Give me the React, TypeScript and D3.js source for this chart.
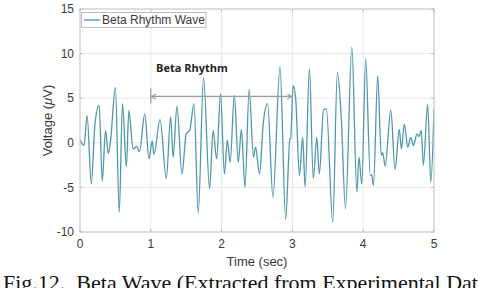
import React from 'react';
import * as d3 from 'd3';

// peaks and troughs of the beta wave
const times = [
  0.0, 0.057, 0.1, 0.16, 0.21, 0.27, 0.315, 0.36, 0.4, 0.43,
  0.5, 0.555, 0.6, 0.655, 0.69, 0.75, 0.8, 0.84, 0.915, 0.975,
  1.02, 1.045, 1.13, 1.22, 1.28, 1.315, 1.37, 1.44, 1.5, 1.55,
  1.61, 1.67, 1.745, 1.83, 1.88, 1.93, 1.985, 2.04, 2.08, 2.12,
  2.18, 2.235, 2.28, 2.33, 2.39, 2.45, 2.48, 2.535, 2.59, 2.65,
  2.725, 2.825, 2.905, 2.965, 2.975, 3.01, 3.045, 3.1, 3.145, 3.18,
  3.24, 3.295, 3.345, 3.38, 3.44, 3.48, 3.57, 3.635, 3.69, 3.75,
  3.84, 3.91, 3.94, 3.98, 4.035, 4.1, 4.12, 4.145, 4.205, 4.255,
  4.275, 4.31, 4.39, 4.45, 4.51, 4.54, 4.58, 4.63, 4.67, 4.71,
  4.76, 4.79, 4.82, 4.85, 4.91, 4.955, 5.0,
];
const voltages = [
  0.3, -0.3, 3.05, -4.6, 2.0, 4.2, -4.3, 1.4, -1.2, 0.1,
  6.2, -7.8, 4.4, -2.7, 3.6, -0.7, -0.4, -1.0, 3.25, -1.8,
  0.2, -1.3, 2.6, -4.0, 2.9, -1.6, 4.1, -3.5, 1.0, 1.4,
  4.4, -7.9, 7.3, -5.15, 1.4, -1.8, 5.5, -3.5, 0.3, -2.2,
  5.3, -2.2, 1.5, -5.0, 6.0, -1.6, -0.5, -3.5, 2.3, 4.4,
  -6.1, 8.5, -8.6, 0.45, 0.5, 6.4, 5.1, -3.65, 0.6, -4.95,
  8.3, -4.0, 0.6, -3.5, 3.7, 3.8, -8.9, 7.9, 2.9, -7.4,
  10.7, -5.5, -1.6, -4.6, 9.4, -3.65, -3.6, -4.8, 7.5, -1.4,
  -1.1, -2.6, 3.7, -3.0, 1.5, -0.7, 2.1, -0.5, 0.6, -0.3,
  1.0, 0.7, 1.4, -2.5, 4.3, -4.4, 3.8,
];
const xTicks = [0, 1, 2, 3, 4, 5];
const yTicks = [-10, -5, 0, 5, 10, 15];
const seriesName = 'Beta Rhythm Wave';
const bandLabel = 'Beta Rhythm';
const bandRange = [1, 3];
const bandLevel = 5.2;
const caption = 'Fig.12.  Beta Wave (Extracted from Experimental Data)';

const W = 478;
const H = 288;
const waveColor = '#4f97ad';
const frameColor = '#bdbdbd';
const gridColor = '#e9e9e9';
const labelColor = '#3a3a3a';
const sans = '"Liberation Sans", Arial, sans-serif';

export default function App() {
  const x = d3.scaleLinear().domain([0, 5]).range([80, 434]);
  const y = d3.scaleLinear().domain([-10, 15]).range([232, 9]);
  const [x0, x1] = x.range();
  const [y0, y1] = y.range();

  const points = times.map((t, i) => [t, voltages[i]] as [number, number]);
  const line = d3.line<[number, number]>()
    .x(d => x(d[0]))
    .y(d => y(d[1]))
    .curve(d3.curveMonotoneX);

  const ax = x(bandRange[0]);
  const bx = x(bandRange[1]);
  const ay = y(bandLevel);

  return (
    <div style={{ position: 'absolute', left: 0, top: 0 }}>
      <svg width={W} height={H} style={{ display: 'block', background: '#fff' }}>
        <defs>
          <clipPath id="plot">
            <rect x={x0} y={y1} width={x1 - x0} height={y0 - y1} />
          </clipPath>
        </defs>

        {/* grid */}
        {xTicks.slice(1, -1).map(t => (
          <line key={'gx' + t} x1={x(t)} x2={x(t)} y1={y1} y2={y0} stroke={gridColor} />
        ))}
        {yTicks.slice(1, -1).map(t => (
          <line key={'gy' + t} x1={x0} x2={x1} y1={y(t)} y2={y(t)} stroke={gridColor} />
        ))}

        {/* wave */}
        <path d={line(points) ?? ''} fill="none" stroke={waveColor} strokeWidth={1.3}
          clipPath="url(#plot)" strokeLinejoin="round" />

        {/* frame and inward ticks */}
        <rect x={x0} y={y1} width={x1 - x0} height={y0 - y1} fill="none" stroke={frameColor} />
        {xTicks.map(t => (
          <g key={'tx' + t} stroke={frameColor}>
            <line x1={x(t)} x2={x(t)} y1={y0} y2={y0 - 3} />
            <line x1={x(t)} x2={x(t)} y1={y1} y2={y1 + 3} />
          </g>
        ))}
        {yTicks.map(t => (
          <g key={'ty' + t} stroke={frameColor}>
            <line x1={x0} x2={x0 + 3} y1={y(t)} y2={y(t)} />
            <line x1={x1} x2={x1 - 3} y1={y(t)} y2={y(t)} />
          </g>
        ))}

        {/* tick labels */}
        {xTicks.map(t => (
          <text key={'lx' + t} x={x(t)} y={y0 + 16} textAnchor="middle"
            fontFamily={sans} fontSize={12} fill={labelColor}>{t}</text>
        ))}
        {yTicks.map(t => (
          <text key={'ly' + t} x={x0 - 6} y={y(t)} dy="0.35em" textAnchor="end"
            fontFamily={sans} fontSize={12} fill={labelColor}>{t}</text>
        ))}

        {/* axis titles */}
        <text x={(x0 + x1) / 2} y={266} textAnchor="middle" fontFamily={sans}
          fontSize={13} fill={labelColor}>Time (sec)</text>
        <text transform={`translate(52,${(y0 + y1) / 2}) rotate(-90)`} textAnchor="middle"
          fontFamily={sans} fontSize={13} fill={labelColor}>
          Voltage (<tspan fontStyle="italic">μ</tspan>V)
        </text>

        {/* legend */}
        <rect x={81.5} y={12.5} width={124.5} height={15} fill="#fff" stroke={frameColor} />
        <line x1={84} x2={100.5} y1={20} y2={20} stroke={waveColor} strokeWidth={1.3} />
        <text x={102} y={24.3} fontFamily={sans} fontSize={12} fill={labelColor}>{seriesName}</text>

        {/* beta rhythm band annotation */}
        <text x={156} y={72} fontFamily='"Open Sans", sans-serif' fontWeight="bold"
          fontSize={11} fill="#222">{bandLabel}</text>
        <g stroke="#9a9a9a" strokeWidth={1.2} fill="none">
          <line x1={ax} x2={ax} y1={ay - 8} y2={ay + 7} />
          <line x1={ax} x2={bx} y1={ay} y2={ay} />
          <polyline points={`${ax + 5},${ay - 2.5} ${ax + 1},${ay} ${ax + 5},${ay + 2.5}`} />
          <polyline points={`${bx - 5},${ay - 2.5} ${bx - 1},${ay} ${bx - 5},${ay + 2.5}`} />
        </g>

        {/* caption, cut by the page edge as in the source figure */}
        <text x={3} y={290} xmlSpace="preserve" fontFamily='"Liberation Serif", "Times New Roman", serif'
          fontSize={22} fill="#111">{caption}</text>
      </svg>
    </div>
  );
}
